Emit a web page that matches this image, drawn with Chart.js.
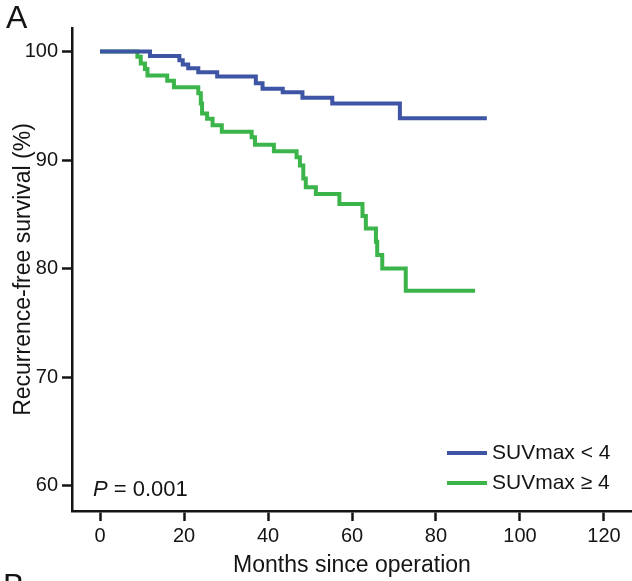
<!DOCTYPE html>
<html>
<head>
<meta charset="utf-8">
<title>Recurrence-free survival by SUVmax</title>
<script src="https://cdn.jsdelivr.net/npm/chart.js@4.4.1/dist/chart.umd.min.js"></script>
<style>
  html, body { margin: 0; padding: 0; background: #fff; }
</style>
</head>
<body>
<canvas id="chart" width="632" height="581"></canvas>
<script>
// Kaplan-Meier curves (panel A)

// Statics
var FONT = '"Liberation Sans", Arial, Helvetica, sans-serif';
var INK = '#141414';
var BLUE = '#3e54a4';
var GREEN = '#3bb54a';

// SUVmax < 4 : month of each drop and survival after it
var lowMonths   = [0, 11.9, 18.9, 19.7, 21.0, 23.4, 27.9, 37.1, 38.7, 43.5, 48.2, 55.3, 71.4, 92.1];
var lowSurvival = [100, 99.6, 99.2, 98.8, 98.45, 98.08, 97.7, 97.07, 96.57, 96.24, 95.74, 95.2, 93.84, 93.84];

// SUVmax >= 4
var highMonths   = [0, 8.9, 9.7, 10.7, 11.3, 16.0, 17.6, 23.4, 24.0, 24.3, 25.5, 26.8, 29.0, 36.1, 36.9,
                    41.4, 46.8, 47.6, 48.4, 49.0, 51.4, 57.0, 62.5, 63.3, 65.7, 66.0, 67.2, 72.8, 89.3];
var highSurvival = [100, 99.52, 98.9, 98.4, 97.8, 97.3, 96.7, 96.15, 95.2, 94.3, 93.8, 93.2, 92.6, 92.1, 91.4,
                    90.8, 90.25, 89.5, 88.3, 87.5, 86.87, 85.95, 84.84, 83.7, 82.47, 81.24, 80.0, 77.96, 77.96];

var seriesLabels = ['SUVmax < 4', 'SUVmax \u2265 4'];
var xTicks = [0, 20, 40, 60, 80, 100, 120];
var yTicks = [60, 70, 80, 90, 100];
var pValue = '0.001';

function toPoints(months, surv) {
    return months.map(function (m, i) { return { x: m, y: surv[i] }; });
}

// legend, p-value and panel letters drawn on top of the chart
var annotations = {
    id: 'annotations',
    afterDraw: function (chart) {
        var ctx = chart.ctx;
        var area = chart.chartArea;
        ctx.save();
        ctx.fillStyle = INK;

        // legend in lower right corner
        ctx.font = '21px ' + FONT;
        ctx.textBaseline = 'middle';
        chart.data.datasets.forEach(function (ds, i) {
            var y = area.bottom - 58 + i * 30;
            var x = area.right - 185;
            ctx.strokeStyle = ds.borderColor;
            ctx.lineWidth = 4;
            ctx.beginPath();
            ctx.moveTo(x, y);
            ctx.lineTo(x + 40, y);
            ctx.stroke();
            ctx.fillText(ds.label, x + 45, y);
        });

        // P value, italic P
        ctx.textBaseline = 'alphabetic';
        ctx.font = 'italic 22px ' + FONT;
        var px = area.left + 21;
        var py = area.bottom - 15;
        ctx.fillText('P', px, py);
        var w = ctx.measureText('P').width;
        ctx.font = '22px ' + FONT;
        ctx.fillText(' = ' + pValue, px + w, py);

        // panel letters
        ctx.font = '32px ' + FONT;
        ctx.fillText('A', 6, 28);
        ctx.fillText('B', 3, 596);
        ctx.restore();
    }
};

var chart = new Chart(document.getElementById('chart'), {
    type: 'line',
    data: {
        datasets: [{
            label: seriesLabels[0],
            data: toPoints(lowMonths, lowSurvival),
            borderColor: BLUE,
            borderWidth: 4,
            stepped: true,
            pointRadius: 0,
            fill: false
        }, {
            label: seriesLabels[1],
            data: toPoints(highMonths, highSurvival),
            borderColor: GREEN,
            borderWidth: 4,
            stepped: true,
            pointRadius: 0,
            fill: false
        }]
    },
    options: {
        responsive: false,
        animation: false,
        devicePixelRatio: 1,
        layout: { padding: { top: 28, left: 0, right: 0, bottom: 0 } },
        plugins: {
            legend: { display: false },
            tooltip: { enabled: false }
        },
        scales: {
            x: {
                type: 'linear',
                min: -6.67,
                max: 126.67,
                afterBuildTicks: function (scale) {
                    scale.ticks = xTicks.map(function (v) { return { value: v }; });
                },
                afterFit: function (scale) { scale.height = 70; },
                grid: { drawOnChartArea: false, drawTicks: true, tickLength: 10, tickWidth: 2.5, tickColor: INK },
                border: { display: true, width: 2.5, color: INK },
                ticks: { color: INK, font: { family: FONT, size: 20 }, padding: 3, maxRotation: 0 },
                title: {
                    display: true,
                    text: 'Months since operation',
                    color: INK,
                    font: { family: FONT, size: 23 },
                    padding: { top: 0, bottom: 2 }
                }
            },
            y: {
                min: 57.65,
                max: 102.17,
                afterBuildTicks: function (scale) {
                    scale.ticks = yTicks.map(function (v) { return { value: v }; });
                },
                afterFit: function (scale) { scale.width = 72; },
                grid: { drawOnChartArea: false, drawTicks: true, tickLength: 10, tickWidth: 2.5, tickColor: INK },
                border: { display: true, width: 2.5, color: INK },
                ticks: { color: INK, font: { family: FONT, size: 20 }, padding: 4 },
                title: {
                    display: true,
                    text: 'Recurrence-free survival (%)',
                    color: INK,
                    font: { family: FONT, size: 23 },
                    padding: { top: 10, bottom: 0 }
                }
            }
        }
    },
    plugins: [annotations]
});
</script>
</body>
</html>
